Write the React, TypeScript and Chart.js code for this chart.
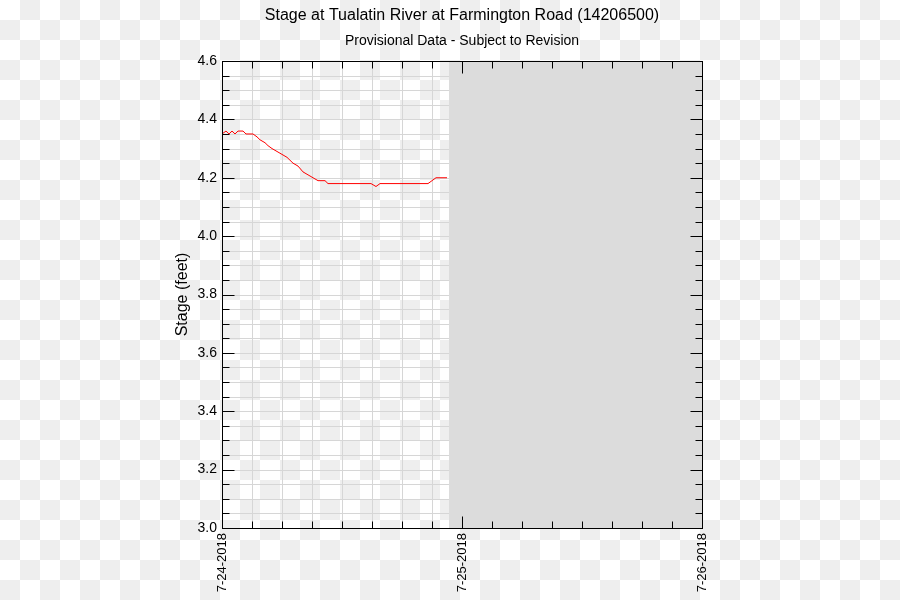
import React, { useEffect, useRef } from "react";
import { Chart, registerables } from "chart.js";

Chart.register(...registerables);

// Hours since 7-24-2018 00:00
const hours = [0, 0.4, 0.7, 1.0, 1.3, 1.6, 2.1, 2.4, 3.1, 3.5, 3.8, 4.3, 4.6, 5.0, 5.5, 6.0, 6.5, 6.8, 7.1, 7.6, 8.1, 8.6, 9.1, 9.6, 10.3, 10.6, 14.9, 15.4, 15.8, 20.6, 21.0, 21.4, 22.5];
const stage = [4.35, 4.36, 4.35, 4.36, 4.35, 4.36, 4.36, 4.35, 4.35, 4.34, 4.33, 4.32, 4.31, 4.30, 4.29, 4.28, 4.27, 4.26, 4.25, 4.24, 4.22, 4.21, 4.20, 4.19, 4.19, 4.18, 4.18, 4.17, 4.18, 4.18, 4.19, 4.20, 4.20];
const dayLabels = ["7-24-2018", "7-25-2018", "7-26-2018"];
const xMin = 0;
const xMax = 48;
const yMin = 3.0;
const yMax = 4.6;
const yMajorStep = 0.2;
const yMinorStep = 0.05;
const xMinorStep = 3;
const noDataStart = 22.7;
const titleText = "Stage at Tualatin River at Farmington Road (14206500)";
const subtitleText = "Provisional Data - Subject to Revision";
const yTitle = "Stage (feet)";

const FONT = "'Liberation Sans', Arial, Helvetica, sans-serif";

const framePlugin = {
  id: "frame",
  beforeDraw(chart: any) {
    const ctx = chart.ctx;
    const w = chart.width;
    const h = chart.height;
    ctx.save();
    ctx.fillStyle = "#ffffff";
    ctx.fillRect(0, 0, w, h);
    ctx.fillStyle = "#eeeeee";
    for (let i = 0; i * 20 < w; i++) {
      for (let j = 0; j * 20 < h; j++) {
        if ((i + j) % 2 === 1) ctx.fillRect(i * 20, j * 20, 20, 20);
      }
    }
    ctx.restore();
  },
  beforeDatasetsDraw(chart: any) {
    const ctx = chart.ctx;
    const a = chart.chartArea;
    const xs = chart.scales.x;
    const ys = chart.scales.y;
    const L = Math.round(a.left) + 0.5;
    const R = Math.round(a.right) + 0.5;
    const T = Math.round(a.top) + 0.5;
    const B = Math.round(a.bottom) + 0.5;
    ctx.save();
    // grid
    ctx.strokeStyle = "#d6d6d6";
    ctx.lineWidth = 1;
    ctx.beginPath();
    for (let hh = xMin + xMinorStep; hh < xMax; hh += xMinorStep) {
      const px = Math.round(xs.getPixelForValue(hh)) + 0.5;
      ctx.moveTo(px, T);
      ctx.lineTo(px, B);
    }
    const nMinor = Math.round((yMax - yMin) / yMinorStep);
    for (let k = 1; k < nMinor; k++) {
      const py = Math.round(ys.getPixelForValue(yMin + k * yMinorStep)) + 0.5;
      ctx.moveTo(L, py);
      ctx.lineTo(R, py);
    }
    ctx.stroke();
    // no-data region
    const gx = Math.round(xs.getPixelForValue(noDataStart));
    ctx.fillStyle = "#dcdcdc";
    ctx.fillRect(gx, a.top, a.right - gx, a.bottom - a.top);
    // ticks
    ctx.strokeStyle = "#000000";
    ctx.beginPath();
    for (let hh = xMin + xMinorStep; hh < xMax; hh += xMinorStep) {
      const px = Math.round(xs.getPixelForValue(hh)) + 0.5;
      const len = hh % 24 === 0 ? 12 : 7;
      ctx.moveTo(px, B);
      ctx.lineTo(px, B - len);
      ctx.moveTo(px, T);
      ctx.lineTo(px, T + len);
    }
    for (let k = 1; k < nMinor; k++) {
      const py = Math.round(ys.getPixelForValue(yMin + k * yMinorStep)) + 0.5;
      const len = k % Math.round(yMajorStep / yMinorStep) === 0 ? 12 : 7;
      ctx.moveTo(L, py);
      ctx.lineTo(L + len, py);
      ctx.moveTo(R, py);
      ctx.lineTo(R - len, py);
    }
    ctx.stroke();
    ctx.restore();
  },
  afterDatasetsDraw(chart: any) {
    const ctx = chart.ctx;
    const a = chart.chartArea;
    ctx.save();
    ctx.strokeStyle = "#000000";
    ctx.lineWidth = 1;
    const L = Math.round(a.left) + 0.5;
    const R = Math.round(a.right) + 0.5;
    const T = Math.round(a.top) + 0.5;
    const B = Math.round(a.bottom) + 0.5;
    ctx.strokeRect(L, T, R - L, B - T);
    // titles centred over the plot area
    const cx = (a.left + a.right) / 2;
    ctx.fillStyle = "#000000";
    ctx.textAlign = "center";
    ctx.textBaseline = "middle";
    ctx.font = `16px ${FONT}`;
    ctx.fillText(titleText, cx, 16);
    ctx.font = `14px ${FONT}`;
    ctx.fillText(subtitleText, cx, 41);
    ctx.restore();
  },
};

export default function App() {
  const ref = useRef<HTMLCanvasElement>(null);
  useEffect(() => {
    document.body.style.margin = "0";
    const canvas = ref.current!;
    const chart = new Chart(canvas, {
      type: "line",
      data: {
        datasets: [
          {
            data: hours.map((h, i) => ({ x: h, y: stage[i] })),
            borderColor: "#ff0000",
            borderWidth: 1,
            pointRadius: 0,
            tension: 0,
            fill: false,
          },
        ],
      },
      options: {
        responsive: false,
        animation: false,
        devicePixelRatio: 1,
        layout: { padding: { left: 0, right: 198, top: 61, bottom: 0 } },
        plugins: {
          legend: { display: false },
          tooltip: { enabled: false },
          title: { display: false },
          subtitle: { display: false },
        },
        scales: {
          x: {
            type: "linear",
            min: xMin,
            max: xMax,
            grid: { display: false, drawTicks: false },
            border: { display: false },
            afterFit: (s: any) => {
              s.height = 72;
            },
            ticks: {
              stepSize: 24,
              autoSkip: false,
              maxRotation: 90,
              minRotation: 90,
              padding: 5,
              color: "#000000",
              font: { family: FONT, size: 13 },
              callback: (v: any) => dayLabels[Math.round(Number(v) / 24)] ?? "",
            },
          },
          y: {
            type: "linear",
            min: yMin,
            max: yMax,
            grid: { display: false, drawTicks: false },
            border: { display: false },
            afterFit: (s: any) => {
              s.width = 222;
            },
            title: {
              display: true,
              text: yTitle,
              color: "#000000",
              font: { family: FONT, size: 16, lineHeight: 1.2 },
              padding: { top: 173, bottom: 0 },
            },
            ticks: {
              stepSize: yMajorStep,
              padding: 5,
              color: "#000000",
              font: { family: FONT, size: 14 },
              callback: (v: any) => Number(v).toFixed(1),
            },
          },
        },
      },
      plugins: [framePlugin],
    } as any);
    return () => chart.destroy();
  }, []);
  return (
    <div style={{ width: 900, height: 600 }}>
      <canvas ref={ref} width={900} height={600} style={{ display: "block" }} />
    </div>
  );
}
